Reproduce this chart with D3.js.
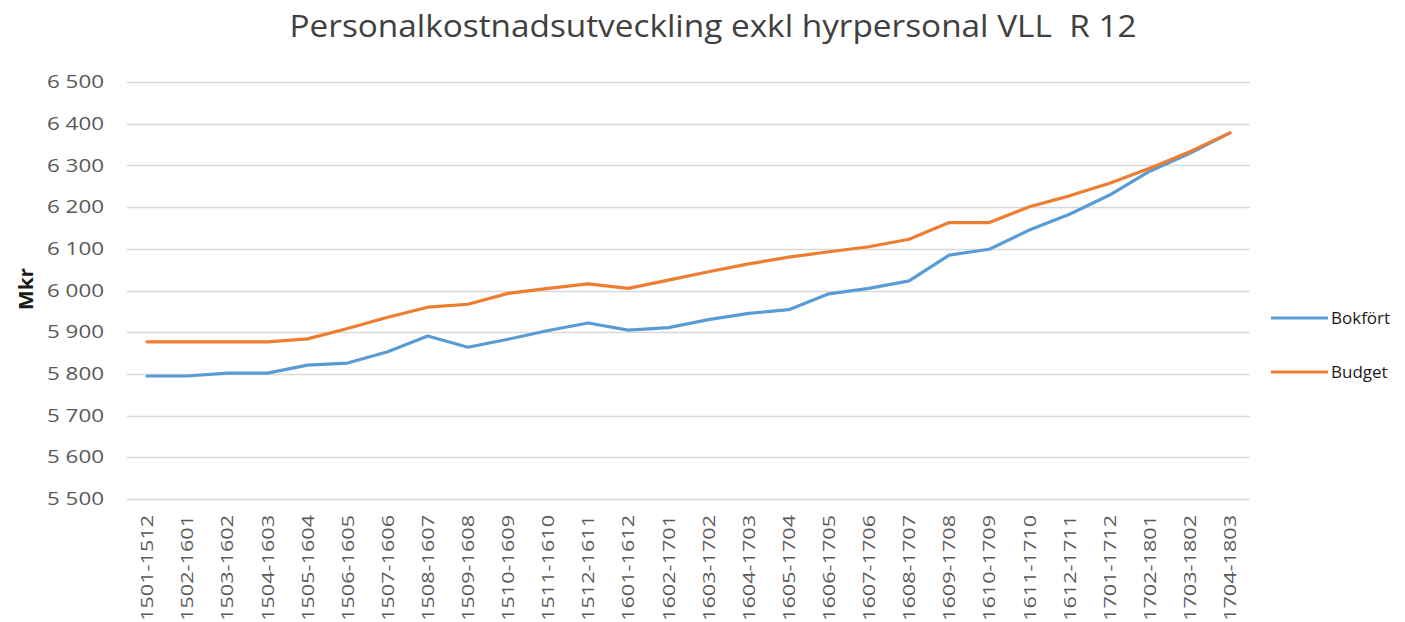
<!DOCTYPE html>
<html><head><meta charset="utf-8">
<script src="https://cdn.jsdelivr.net/npm/d3@7/dist/d3.min.js"></script>
<style>body{margin:0;background:#fff}svg{display:block}</style>
</head><body>
<svg id="chart" width="1405" height="622"></svg>
<script>
const categories = ["1501-1512","1502-1601","1503-1602","1504-1603","1505-1604","1506-1605","1507-1606","1508-1607","1509-1608","1510-1609","1511-1610","1512-1611","1601-1612","1602-1701","1603-1702","1604-1703","1605-1704","1606-1705","1607-1706","1608-1707","1609-1708","1610-1709","1611-1710","1612-1711","1701-1712","1702-1801","1703-1802","1704-1803"];
const bokfort = [5795,5795,5802,5802,5821,5826,5853,5891,5864,5883,5904,5922,5905,5911,5930,5945,5954,5992,6005,6023,6085,6099,6145,6183,6229,6286,6329,6378];
const budget = [5877,5877,5877,5877,5884,5909,5936,5960,5967,5993,6005,6016,6005,6025,6045,6064,6080,6093,6105,6123,6163,6163,6201,6227,6257,6293,6333,6378];
const yTicks = [5500,5600,5700,5800,5900,6000,6100,6200,6300,6400,6500];
const seriesNames = ["Bokfört","Budget"];
const colors = ["#5B9BD5","#ED7D31"];

(function(){
const svg = d3.select("#chart");
const mLeft = 127, mRight = 1250, mTop = 82, mBottom = 499;
const x = d3.scaleBand().domain(categories).range([mLeft, mRight]);
const y = d3.scaleLinear().domain([5500, 6500]).range([mBottom, mTop]);
const fmt = v => d3.format(",")(v).replace(",", " ");

svg.append("g").selectAll("line").data(yTicks).join("line")
  .attr("x1", mLeft).attr("x2", mRight)
  .attr("y1", d => Math.round(y(d)) + 0.5).attr("y2", d => Math.round(y(d)) + 0.5)
  .attr("stroke", "#D9D9D9").attr("stroke-width", 1.3);

const yAxis = d3.axisLeft(y).tickValues(yTicks).tickFormat(fmt).tickSize(0).tickPadding(23);
const ya = svg.append("g").attr("transform", `translate(${mLeft},0)`).call(yAxis);
ya.select(".domain").remove();
ya.selectAll("text").attr("font-family", "Open Sans, sans-serif").attr("font-size", 17.5).attr("fill", "#595959")
  .attr("textLength", 57).attr("lengthAdjust", "spacingAndGlyphs");

const xAxis = d3.axisBottom(x).tickSize(0).tickPadding(0);
const xa = svg.append("g").attr("transform", `translate(0,${mBottom})`).call(xAxis);
xa.select(".domain").remove();
xa.selectAll("text")
  .attr("font-family", "Open Sans, sans-serif").attr("font-size", 17).attr("fill", "#595959")
  .attr("transform", "rotate(-90)").attr("text-anchor", "end")
  .attr("x", -16).attr("y", 0).attr("dy", "0.36em")
  .attr("textLength", 106).attr("lengthAdjust", "spacingAndGlyphs");

const line = d3.line().x((d, i) => x(categories[i]) + x.bandwidth() / 2).y(d => y(d));
[bokfort, budget].forEach((s, k) => {
  svg.append("path").datum(s).attr("d", line).attr("fill", "none")
    .attr("stroke", colors[k]).attr("stroke-width", 3.2)
    .attr("stroke-linejoin", "round").attr("stroke-linecap", "round");
});

svg.append("text").attr("x", 713).attr("y", 37).attr("text-anchor", "middle")
  .attr("font-family", "Open Sans, sans-serif").attr("font-size", 31).attr("fill", "#404040")
  .attr("xml:space", "preserve").style("white-space", "pre")
  .attr("textLength", 847).attr("lengthAdjust", "spacingAndGlyphs")
  .text("Personalkostnadsutveckling exkl hyrpersonal VLL  R 12");

svg.append("text").attr("transform", "translate(33,289) rotate(-90)").attr("text-anchor", "middle")
  .attr("font-family", "Open Sans, sans-serif").attr("font-size", 19).attr("font-weight", "bold").attr("fill", "#1a1a1a")
  .attr("textLength", 42).attr("lengthAdjust", "spacingAndGlyphs")
  .text("Mkr");

const legY = [318, 372];
seriesNames.forEach((n, k) => {
  svg.append("line").attr("x1", 1271).attr("x2", 1328).attr("y1", legY[k]).attr("y2", legY[k])
    .attr("stroke", colors[k]).attr("stroke-width", 3.2);
  svg.append("text").attr("x", 1331).attr("y", legY[k]).attr("dy", "0.36em")
    .attr("font-family", "Open Sans, sans-serif").attr("font-size", 17).attr("fill", "#1a1a1a")
    .text(n);
});
})();
</script>
</body></html>
